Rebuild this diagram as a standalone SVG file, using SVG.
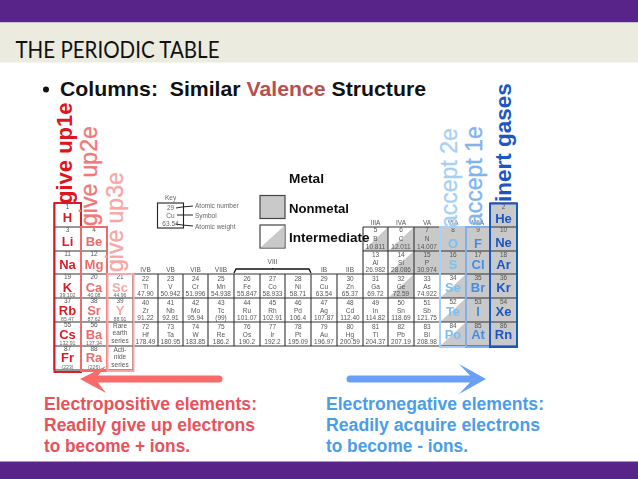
<svg xmlns="http://www.w3.org/2000/svg" width="638" height="479" viewBox="0 0 638 479">
<defs><filter id="b" x="-5%" y="-5%" width="110%" height="110%"><feGaussianBlur stdDeviation="0.42"/></filter></defs>
<style>
text{font-family:"Liberation Sans",Arial,sans-serif}
.t{font-size:6.5px;fill:#555;text-anchor:middle}
.w{font-size:5.2px;fill:#666;text-anchor:middle}
.s{font-size:13px;font-weight:bold;text-anchor:middle}
.r{fill:#d81e2a}.p{fill:#ef6a6a}.q{fill:#f7a6a6}.d{fill:#1a56c4}.m{fill:#3f8fe6}.l{fill:#7cc0f2}
.g{fill:#c9c9c9}
.lb{font-size:12.5px;font-weight:bold;fill:#111}
.big{font-size:17.6px;font-weight:bold}
.v{font-size:23px;stroke-width:.35px}
.kk{font-size:6.5px;fill:#666}
</style>
<rect width="638" height="479" fill="#fff"/>
<rect width="638" height="22.5" fill="#592489"/>
<rect y="22.5" width="638" height="40" fill="#ecebe0"/>
<rect y="461.5" width="638" height="17.5" fill="#592489"/>
<text x="15.500" y="58" font-size="22.500" fill="#111" textLength="204" lengthAdjust="spacingAndGlyphs" style="font-family:Lato,'Liberation Sans',sans-serif">THE PERIODIC TABLE</text>
<circle cx="46" cy="89.500" r="3" fill="#111"/>
<text x="60" y="96" font-size="21" font-weight="bold" fill="#111" xml:space="preserve" textLength="366" lengthAdjust="spacingAndGlyphs">Columns:  Similar <tspan fill="#b5504e">Valence</tspan> Structure</text>
<g id="table" filter="url(#b)">
<path class="g" d="M490 203h27v143h-27zM466 227h24v119h-24zM414 227h52v47h-52z"/>
<path class="g" d="M388 227v24h-25zM414 227v24h-26zM414 251v23h-26zM414 274v24h-26zM466 274v24h-26zM466 298v24h-26zM466 322v24h-26z"/>
<path fill="none" stroke="#333" stroke-width="1.100" d="M54 203V370M81 203V370M107 227V370M133 274V370M158 274V346M183 274V346M208 274V346M234 274V346M260 274V346M285 274V346M311 274V346M337 274V346M363 227V346M388 227V346M414 227V346M440 227V346M466 227V346M490 203V346M517 203V346M54 203H81M490 203H517M54 227H107M363 227H517M54 251H107M363 251H517M54 274H517M54 298H517M54 322H517M54 346H517M54 370H133"/>
<g class="heads">
<text class="t" x="145.500" y="272">IVB</text><text class="t" x="170.500" y="272">VB</text><text class="t" x="195.500" y="272">VIB</text><text class="t" x="221" y="272">VIIB</text><text class="t" x="272.500" y="264">VIII</text><text class="t" x="324" y="272">IB</text><text class="t" x="350" y="272">IIB</text><text class="t" x="375.500" y="225">IIIA</text><text class="t" x="401" y="225">IVA</text><text class="t" x="427" y="225">VA</text><text class="t" x="453" y="225">VIA</text><text class="t" x="478" y="225">VIIA</text>
<path fill="none" stroke="#111" stroke-width="1.300" d="M234 273l2-4h73l2 4M272.500 269v-1"/>
</g>
<g class="nums">
<text class="t" x="67.500" y="209">1</text><text class="t" x="67.500" y="232">3</text><text class="t" x="67.500" y="256">11</text><text class="t" x="67.500" y="279">19</text><text class="t" x="67.500" y="303">37</text><text class="t" x="67.500" y="327">55</text><text class="t" x="67.500" y="351">87</text>
<text class="t" x="94" y="232">4</text><text class="t" x="94" y="256">12</text><text class="t" x="94" y="279">20</text><text class="t" x="94" y="303">38</text><text class="t" x="94" y="327">56</text><text class="t" x="94" y="351">88</text>
<text class="t" x="120" y="279">21</text><text class="t" x="120" y="303">39</text>
<text class="t" x="120" y="327.500">Rare</text><text class="t" x="120" y="335">earth</text><text class="t" x="120" y="343">series</text><text class="t" x="120" y="351.500">Acti-</text><text class="t" x="120" y="359">nide</text><text class="t" x="120" y="367">series</text>
<text class="w" x="67.500" y="368.500">(223)</text><text class="w" x="94" y="368.500">(226)</text><text class="w" x="67.500" y="344.500">132.91</text><text class="w" x="94" y="344.500">137.34</text><text class="w" x="67.500" y="320.500">85.47</text><text class="w" x="94" y="320.500">87.62</text><text class="w" x="67.500" y="297">39.102</text><text class="w" x="94" y="297">40.08</text><text class="w" x="120" y="297">44.96</text><text class="w" x="120" y="320.500">88.91</text>
</g>
<g class="mid">
<text class="t" x="145.500" y="281">22</text><text class="t" x="145.500" y="289">Ti</text><text class="t" x="145.500" y="296">47.90</text><text class="t" x="170.500" y="281">23</text><text class="t" x="170.500" y="289">V</text><text class="t" x="170.500" y="296">50.942</text><text class="t" x="195.500" y="281">24</text><text class="t" x="195.500" y="289">Cr</text><text class="t" x="195.500" y="296">51.996</text><text class="t" x="221" y="281">25</text><text class="t" x="221" y="289">Mn</text><text class="t" x="221" y="296">54.938</text><text class="t" x="247" y="281">26</text><text class="t" x="247" y="289">Fe</text><text class="t" x="247" y="296">55.847</text><text class="t" x="272.500" y="281">27</text><text class="t" x="272.500" y="289">Co</text><text class="t" x="272.500" y="296">58.933</text><text class="t" x="298" y="281">28</text><text class="t" x="298" y="289">Ni</text><text class="t" x="298" y="296">58.71</text><text class="t" x="324" y="281">29</text><text class="t" x="324" y="289">Cu</text><text class="t" x="324" y="296">63.54</text><text class="t" x="350" y="281">30</text><text class="t" x="350" y="289">Zn</text><text class="t" x="350" y="296">65.37</text><text class="t" x="375.500" y="281">31</text><text class="t" x="375.500" y="289">Ga</text><text class="t" x="375.500" y="296">69.72</text><text class="t" x="401" y="281">32</text><text class="t" x="401" y="289">Ge</text><text class="t" x="401" y="296">72.59</text><text class="t" x="427" y="281">33</text><text class="t" x="427" y="289">As</text><text class="t" x="427" y="296">74.922</text>
<text class="t" x="145.500" y="305">40</text><text class="t" x="145.500" y="313">Zr</text><text class="t" x="145.500" y="320">91.22</text><text class="t" x="170.500" y="305">41</text><text class="t" x="170.500" y="313">Nb</text><text class="t" x="170.500" y="320">92.91</text><text class="t" x="195.500" y="305">42</text><text class="t" x="195.500" y="313">Mo</text><text class="t" x="195.500" y="320">95.94</text><text class="t" x="221" y="305">43</text><text class="t" x="221" y="313">Tc</text><text class="t" x="221" y="320">(99)</text><text class="t" x="247" y="305">44</text><text class="t" x="247" y="313">Ru</text><text class="t" x="247" y="320">101.07</text><text class="t" x="272.500" y="305">45</text><text class="t" x="272.500" y="313">Rh</text><text class="t" x="272.500" y="320">102.91</text><text class="t" x="298" y="305">46</text><text class="t" x="298" y="313">Pd</text><text class="t" x="298" y="320">106.4</text><text class="t" x="324" y="305">47</text><text class="t" x="324" y="313">Ag</text><text class="t" x="324" y="320">107.87</text><text class="t" x="350" y="305">48</text><text class="t" x="350" y="313">Cd</text><text class="t" x="350" y="320">112.40</text><text class="t" x="375.500" y="305">49</text><text class="t" x="375.500" y="313">In</text><text class="t" x="375.500" y="320">114.82</text><text class="t" x="401" y="305">50</text><text class="t" x="401" y="313">Sn</text><text class="t" x="401" y="320">118.69</text><text class="t" x="427" y="305">51</text><text class="t" x="427" y="313">Sb</text><text class="t" x="427" y="320">121.75</text>
<text class="t" x="145.500" y="329">72</text><text class="t" x="145.500" y="337">Hf</text><text class="t" x="145.500" y="344">178.49</text><text class="t" x="170.500" y="329">73</text><text class="t" x="170.500" y="337">Ta</text><text class="t" x="170.500" y="344">180.95</text><text class="t" x="195.500" y="329">74</text><text class="t" x="195.500" y="337">W</text><text class="t" x="195.500" y="344">183.85</text><text class="t" x="221" y="329">75</text><text class="t" x="221" y="337">Re</text><text class="t" x="221" y="344">186.2</text><text class="t" x="247" y="329">76</text><text class="t" x="247" y="337">Os</text><text class="t" x="247" y="344">190.2</text><text class="t" x="272.500" y="329">77</text><text class="t" x="272.500" y="337">Ir</text><text class="t" x="272.500" y="344">192.2</text><text class="t" x="298" y="329">78</text><text class="t" x="298" y="337">Pt</text><text class="t" x="298" y="344">195.09</text><text class="t" x="324" y="329">79</text><text class="t" x="324" y="337">Au</text><text class="t" x="324" y="344">196.97</text><text class="t" x="350" y="329">80</text><text class="t" x="350" y="337">Hg</text><text class="t" x="350" y="344">200.59</text><text class="t" x="375.500" y="329">81</text><text class="t" x="375.500" y="337">Tl</text><text class="t" x="375.500" y="344">204.37</text><text class="t" x="401" y="329">82</text><text class="t" x="401" y="337">Pb</text><text class="t" x="401" y="344">207.19</text><text class="t" x="427" y="329">83</text><text class="t" x="427" y="337">Bi</text><text class="t" x="427" y="344">208.98</text>
<text class="t" x="375.500" y="232">5</text><text class="t" x="375.500" y="241">B</text><text class="t" x="375.500" y="249">10.811</text><text class="t" x="401" y="232">6</text><text class="t" x="401" y="241">C</text><text class="t" x="401" y="249">12.011</text><text class="t" x="427" y="232">7</text><text class="t" x="427" y="241">N</text><text class="t" x="427" y="249">14.007</text>
<text class="t" x="375.500" y="257">13</text><text class="t" x="375.500" y="265">Al</text><text class="t" x="375.500" y="272">26.982</text><text class="t" x="401" y="257">14</text><text class="t" x="401" y="265">Si</text><text class="t" x="401" y="272">28.086</text><text class="t" x="427" y="257">15</text><text class="t" x="427" y="265">P</text><text class="t" x="427" y="272">30.974</text>
<text class="t" x="453" y="232">8</text><text class="t" x="478" y="232">9</text><text class="t" x="453" y="257">16</text><text class="t" x="478" y="257">17</text><text class="t" x="453" y="280">34</text><text class="t" x="478" y="280">35</text><text class="t" x="453" y="304">52</text><text class="t" x="478" y="304">53</text><text class="t" x="453" y="328">84</text><text class="t" x="478" y="328">85</text><text class="t" x="503.500" y="209">2</text><text class="t" x="503.500" y="232">10</text><text class="t" x="503.500" y="257">18</text><text class="t" x="503.500" y="280">36</text><text class="t" x="503.500" y="304">54</text><text class="t" x="503.500" y="328">86</text>
</g>
<g class="syms">
<text class="s r" x="67.500" y="222">H</text><text class="s r" x="67.500" y="246">Li</text><text class="s r" x="67.500" y="269">Na</text><text class="s r" x="67.500" y="292">K</text><text class="s r" x="67.500" y="315">Rb</text><text class="s r" x="67.500" y="338.500">Cs</text><text class="s r" x="67.500" y="361.500">Fr</text>
<text class="s p" x="94" y="246">Be</text><text class="s p" x="94" y="269">Mg</text><text class="s p" x="94" y="292">Ca</text><text class="s p" x="94" y="315">Sr</text><text class="s p" x="94" y="338.500">Ba</text><text class="s p" x="94" y="361.500">Ra</text>
<text class="s q" x="120" y="292">Sc</text><text class="s q" x="120" y="315">Y</text>
<text class="s l" x="453" y="247.500">O</text><text class="s l" x="453" y="269">S</text><text class="s l" x="453" y="292">Se</text><text class="s l" x="453" y="316">Te</text><text class="s l" x="453" y="339">Po</text>
<text class="s m" x="478" y="247.500">F</text><text class="s m" x="478" y="269">Cl</text><text class="s m" x="478" y="292">Br</text><text class="s m" x="478" y="316">I</text><text class="s m" x="478" y="339">At</text>
<text class="s d" x="503.500" y="223">He</text><text class="s d" x="503.500" y="246.500">Ne</text><text class="s d" x="503.500" y="269">Ar</text><text class="s d" x="503.500" y="292">Kr</text><text class="s d" x="503.500" y="316">Xe</text><text class="s d" x="503.500" y="339">Rn</text>
</g>
</g>
<g fill="none" id="columns">
<rect x="54.500" y="203" width="26.500" height="169" stroke="#d81e2a" stroke-width="2"/>
<rect x="81" y="227" width="26" height="144" stroke="#ef6a6a" stroke-width="2"/>
<rect x="107.500" y="274" width="26" height="97" stroke="#f7a6a6" stroke-width="2"/>
<rect x="440" y="227" width="26" height="120" stroke="#a8cff5" stroke-width="2"/>
<rect x="466" y="227" width="24" height="120" stroke="#7db0ee" stroke-width="2"/>
<rect x="490" y="203.500" width="27" height="143.500" stroke="#1a56c4" stroke-width="2"/>
</g>
<g id="vertical">
<text transform="translate(72 204) rotate(-90)" font-size="22" font-weight="bold" fill="#e0141e">give up1e</text>
<text transform="translate(97 226) rotate(-90)" class="v" fill="#f07878" stroke="#f07878">give up2e</text>
<text transform="translate(123 272) rotate(-90)" class="v" fill="#f7a6a6" stroke="#f7a6a6">give up3e</text>
<text transform="translate(457 228) rotate(-90)" class="v" fill="#a8d0f5" stroke="#a8d0f5">accept 2e</text>
<text transform="translate(482 226) rotate(-90)" class="v" fill="#80b4f0" stroke="#80b4f0">accept 1e</text>
<text transform="translate(511 202) rotate(-90)" font-size="22.500" font-weight="bold" fill="#1a56c4">inert gases</text>
</g>
<g id="key" filter="url(#b)">
<rect x="157.500" y="203" width="26" height="25" fill="none" stroke="#222" stroke-width="1.100"/>
<text class="kk" x="165" y="200">Key</text>
<text class="kk" x="170.500" y="209.500" text-anchor="middle">29</text><text class="kk" x="170.500" y="217.500" text-anchor="middle">Cu</text><text class="kk" x="170.500" y="225.500" text-anchor="middle">63.54</text>
<path fill="none" stroke="#222" d="M176 208l6-1 11-1M177 215H193M176 224l6 1 11 1"/>
<text class="kk" x="195" y="207.500">Atomic number</text><text class="kk" x="195" y="217.500">Symbol</text><text class="kk" x="195" y="229">Atomic weight</text>
</g>
<g id="legend" filter="url(#b)">
<text class="lb" x="289" y="183" textLength="35" lengthAdjust="spacingAndGlyphs">Metal</text>
<rect x="260" y="195.500" width="25" height="23" fill="#c9c9c9" stroke="#444" stroke-width="1.200"/>
<text class="lb" x="289" y="213" textLength="60" lengthAdjust="spacingAndGlyphs">Nonmetal</text>
<rect x="260" y="225" width="25" height="23" fill="#fff" stroke="#444" stroke-width="1.200"/>
<path class="g" d="M284.500 225.500v22h-24z"/>
<text class="lb" x="289" y="242" textLength="80.500" lengthAdjust="spacingAndGlyphs">Intermediate</text>
</g>
<g id="arrow-left"><path fill="#f96a6a" d="M219 375.500a3.500 3.500 0 0 1 0 7H98L106 393 80 379 106 366 98 375.500z"/></g>
<g id="arrow-right"><path fill="#6a9ff8" d="M350 375.500a3.500 3.500 0 0 0 0 7H470L459 394 486 379 459 364 470 375.500z"/></g>
<g id="note-left" fill="#e8525a">
<text class="big" x="44" y="410" textLength="213" lengthAdjust="spacingAndGlyphs">Electropositive elements:</text>
<text class="big" x="44" y="431" textLength="211" lengthAdjust="spacingAndGlyphs">Readily give up electrons</text>
<text class="big" x="44" y="452" textLength="146" lengthAdjust="spacingAndGlyphs">to become + ions.</text>
</g>
<g id="note-right" fill="#4a9de8">
<text class="big" x="326" y="410" textLength="218" lengthAdjust="spacingAndGlyphs">Electronegative elements:</text>
<text class="big" x="326" y="431" textLength="214" lengthAdjust="spacingAndGlyphs">Readily acquire electrons</text>
<text class="big" x="326" y="452" textLength="142" lengthAdjust="spacingAndGlyphs">to become - ions.</text>
</g>
</svg>
